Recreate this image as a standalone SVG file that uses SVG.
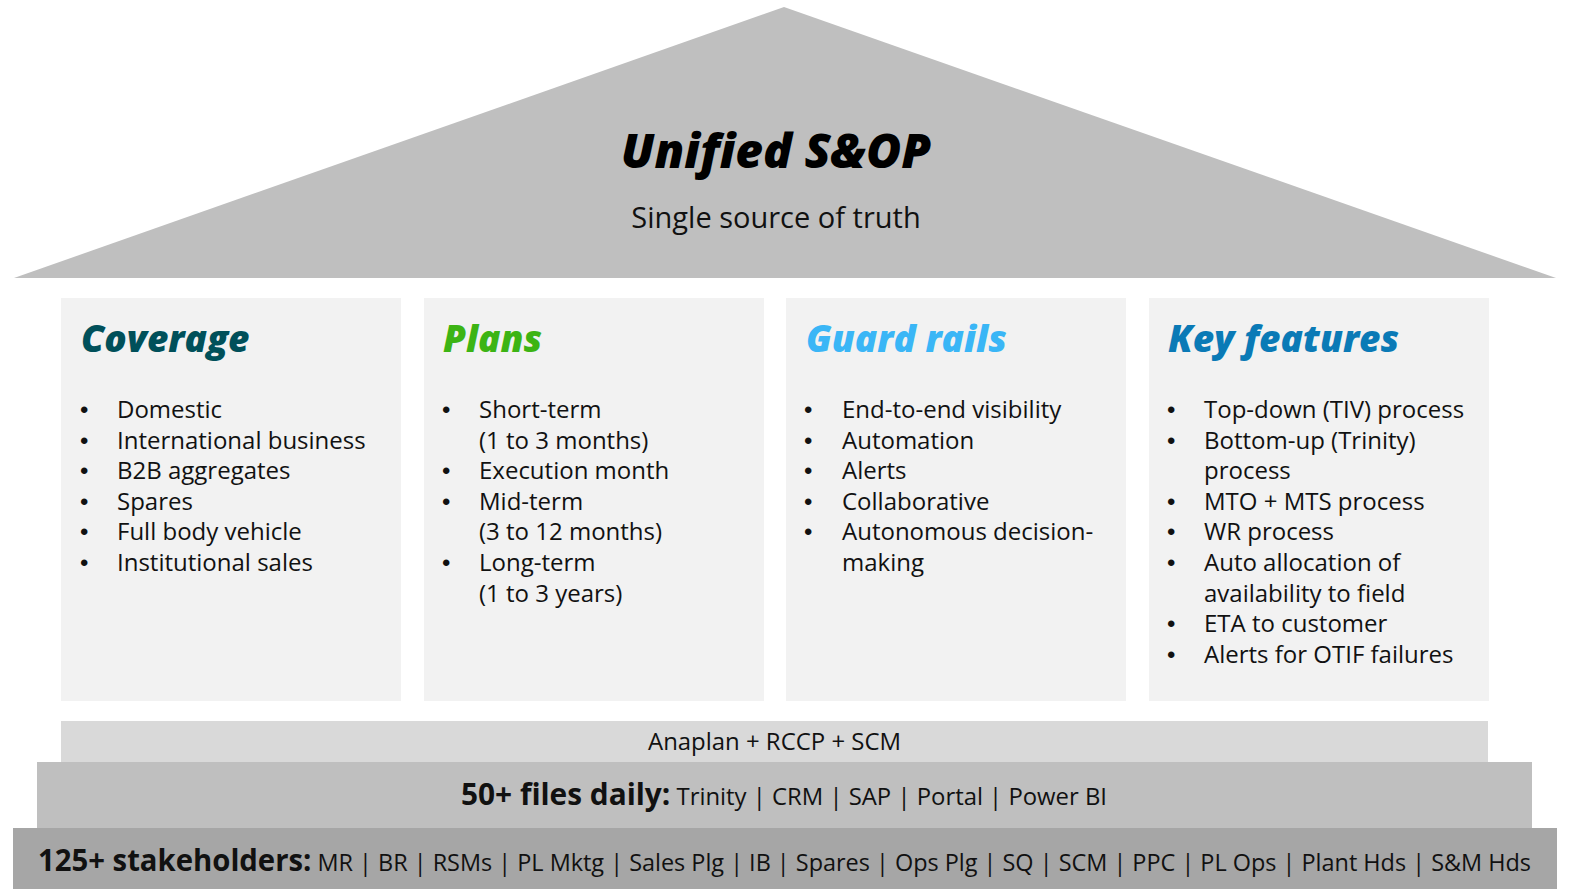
<svg xmlns="http://www.w3.org/2000/svg" width="1570" height="889" viewBox="0 0 1570 889">
<style>
.panel{fill:#f2f2f2}
.hd{font-family:"Open Sans",sans-serif;font-weight:800;font-style:italic;font-size:37px}
.li{font-family:"Open Sans",sans-serif;font-size:24px;fill:#111}
.bu{font-family:"Liberation Sans",sans-serif;font-size:24px;fill:#111}
.bar{font-family:"Open Sans",sans-serif;fill:#111}
</style>
<rect width="1570" height="889" fill="#ffffff"/>
<g id="roof">
<polygon points="14,278 784,7 1556,278" fill="#bfbfbf"/>
<text x="776" y="168" text-anchor="middle" font-family="Open Sans, sans-serif" font-weight="800" font-style="italic" font-size="48" fill="#000">Unified S&amp;OP</text>
<text x="776" y="228" text-anchor="middle" font-family="Open Sans, sans-serif" font-size="29" fill="#111">Single source of truth</text>
</g>
<g id="coverage">
<rect class="panel" x="61" y="298" width="340" height="403"/>
<text class="hd" x="81" y="352" fill="#00505a">Coverage</text>
<g class="bu">
<text x="80" y="418">•</text><text x="80" y="448.6">•</text><text x="80" y="479.2">•</text><text x="80" y="509.8">•</text><text x="80" y="540.4">•</text><text x="80" y="571">•</text>
</g>
<g class="li">
<text x="117" y="418">Domestic</text>
<text x="117" y="448.6">International business</text>
<text x="117" y="479.2">B2B aggregates</text>
<text x="117" y="509.8">Spares</text>
<text x="117" y="540.4">Full body vehicle</text>
<text x="117" y="571">Institutional sales</text>
</g>
</g>
<g id="plans">
<rect class="panel" x="424" y="298" width="340" height="403"/>
<text class="hd" x="443" y="352" fill="#3cb414">Plans</text>
<g class="bu">
<text x="442" y="418">•</text><text x="442" y="479.2">•</text><text x="442" y="509.8">•</text><text x="442" y="571">•</text>
</g>
<g class="li">
<text x="479" y="418">Short-term</text>
<text x="479" y="448.6">(1 to 3 months)</text>
<text x="479" y="479.2">Execution month</text>
<text x="479" y="509.8">Mid-term</text>
<text x="479" y="540.4">(3 to 12 months)</text>
<text x="479" y="571">Long-term</text>
<text x="479" y="601.6">(1 to 3 years)</text>
</g>
</g>
<g id="guard-rails">
<rect class="panel" x="786" y="298" width="340" height="403"/>
<text class="hd" x="806" y="352" fill="#3ab6f6">Guard rails</text>
<g class="bu">
<text x="804" y="418">•</text><text x="804" y="448.6">•</text><text x="804" y="479.2">•</text><text x="804" y="509.8">•</text><text x="804" y="540.4">•</text>
</g>
<g class="li">
<text x="842" y="418">End-to-end visibility</text>
<text x="842" y="448.6">Automation</text>
<text x="842" y="479.2">Alerts</text>
<text x="842" y="509.8">Collaborative</text>
<text x="842" y="540.4">Autonomous decision-</text>
<text x="842" y="571">making</text>
</g>
</g>
<g id="key-features">
<rect class="panel" x="1149" y="298" width="340" height="403"/>
<text class="hd" x="1168" y="352" fill="#0a7ab6">Key features</text>
<g class="bu">
<text x="1167" y="418">•</text><text x="1167" y="448.6">•</text><text x="1167" y="509.8">•</text><text x="1167" y="540.4">•</text><text x="1167" y="571">•</text><text x="1167" y="632.2">•</text><text x="1167" y="662.8">•</text>
</g>
<g class="li">
<text x="1204" y="418">Top-down (TIV) process</text>
<text x="1204" y="448.6">Bottom-up (Trinity)</text>
<text x="1204" y="479.2">process</text>
<text x="1204" y="509.8">MTO + MTS process</text>
<text x="1204" y="540.4">WR process</text>
<text x="1204" y="571">Auto allocation of</text>
<text x="1204" y="601.6">availability to field</text>
<text x="1204" y="632.2">ETA to customer</text>
<text x="1204" y="662.8">Alerts for OTIF failures</text>
</g>
</g>
<g id="platform">
<rect x="61" y="721" width="1427" height="41" fill="#d9d9d9"/>
<text class="bar" x="648" y="750" font-size="24" textLength="253" lengthAdjust="spacingAndGlyphs">Anaplan + RCCP + SCM</text>
</g>
<g id="files">
<rect x="37" y="762" width="1495" height="66" fill="#bfbfbf"/>
<text class="bar" x="461" y="805" textLength="646" lengthAdjust="spacingAndGlyphs"><tspan font-weight="700" font-size="30">50+ files daily:</tspan><tspan font-size="24"> Trinity | CRM | SAP | Portal | Power BI</tspan></text>
</g>
<g id="stakeholders">
<rect x="13" y="828" width="1544" height="61" fill="#a6a6a6"/>
<text class="bar" x="38" y="871" textLength="1493" lengthAdjust="spacingAndGlyphs"><tspan font-weight="700" font-size="30">125+ stakeholders:</tspan><tspan font-size="24"> MR | BR | RSMs | PL Mktg | Sales Plg | IB | Spares | Ops Plg | SQ | SCM | PPC | PL Ops | Plant Hds | S&amp;M Hds</tspan></text>
</g>
<g id="connectors"/>
</svg>
